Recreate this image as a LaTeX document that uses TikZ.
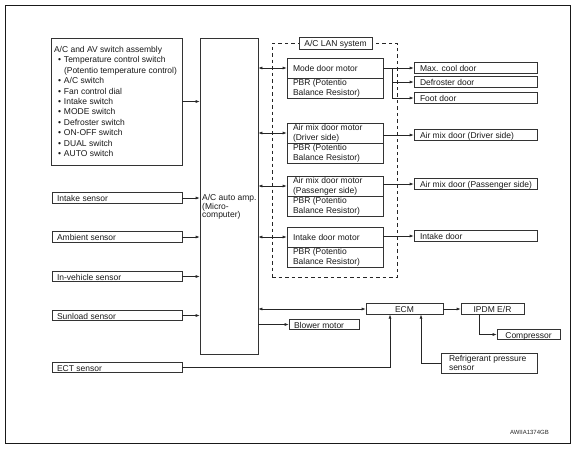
\documentclass[tikz,border=0pt]{standalone}
\usepackage{fontspec}
\setmainfont{Liberation Sans}
\usetikzlibrary{arrows.meta}
\newcommand{\lbx}[2]{\makebox[#1][l]{#2}}
\begin{document}
\begin{tikzpicture}[x=1pt,y=-1pt,
  font=\fontsize{8.5}{10}\selectfont,
  >={Latex[length=4pt,width=3pt]},
  box/.style={draw=black!80, line width=0.6pt, rectangle, inner ysep=0pt, text=black!90},
  one/.style={box, minimum height=10.5pt, text height=7pt, text depth=0pt},
  two/.style={box, minimum height=20pt, align=left},
  sensor/.style={one, inner xsep=5pt},
  door/.style={one, inner xsep=6pt},
  motor/.style={two, inner xsep=6pt},
  cbox/.style={one, inner xsep=0pt, minimum width=#1, align=center},
  conn/.style={draw=black!85, line width=0.6pt},
  lanframe/.style={draw=black!85, line width=1pt, dash pattern=on 3.5pt off 3pt, rectangle, minimum width=125pt, minimum height=234pt, inner sep=0pt}
]
\useasboundingbox (0,0) rectangle (572,448);
\draw[black!90, line width=0.8pt] (5.5,5.5) rectangle (570,443);

% left column
\node[box, minimum width=131pt, minimum height=127pt, inner xsep=3pt, align=left,
      font=\fontsize{8.5}{10.45}\selectfont] (sw) at (116.5,101.5) {\lbx{125pt}{A/C and AV switch assembly}\\
\hspace*{4pt}\makebox[6pt][l]{•}Temperature control switch\\
\hspace*{10pt}(Potentio temperature control)\\
\hspace*{4pt}\makebox[6pt][l]{•}A/C switch\\
\hspace*{4pt}\makebox[6pt][l]{•}Fan control dial\\
\hspace*{4pt}\makebox[6pt][l]{•}Intake switch\\
\hspace*{4pt}\makebox[6pt][l]{•}MODE switch\\
\hspace*{4pt}\makebox[6pt][l]{•}Defroster switch\\
\hspace*{4pt}\makebox[6pt][l]{•}ON-OFF switch\\
\hspace*{4pt}\makebox[6pt][l]{•}DUAL switch\\
\hspace*{4pt}\makebox[6pt][l]{•}AUTO switch};

\node[sensor] (intake) at (117,198) {\lbx{120pt}{Intake sensor}};
\node[sensor] (ambient) at (117,237) {\lbx{120pt}{Ambient sensor}};
\node[sensor] (inveh) at (117,276.5) {\lbx{120pt}{In-vehicle sensor}};
\node[sensor] (sunload) at (117,315.5) {\lbx{120pt}{Sunload sensor}};
\node[sensor] (ect) at (117,367.5) {\lbx{120pt}{ECT sensor}};

% amplifier
\node[box, minimum width=58pt, minimum height=316pt] (amp) at (229,196) {};
\node[anchor=north west, inner sep=0pt, align=left, font=\fontsize{8.5}{8.2}\selectfont, text=black!90] (amptxt) at (202,194.6) {A/C auto amp.\\(Micro-\\computer)};

% LAN system
\node[lanframe] (lan) at (334.5,160) {};
\node[box, fill=white, minimum width=73pt, minimum height=12pt, text height=7pt, text depth=0pt] (lanlabel) at (335.5,43) {A/C LAN system};

\node[motor] (mode) at (335,68) {\lbx{84pt}{Mode door motor}};
\node[motor] (modepbr) at (335,88) {\lbx{84pt}{PBR (Potentio}\\Balance Resistor)};
\node[motor] (drv) at (335,133) {\lbx{84pt}{Air mix door motor}\\(Driver side)};
\node[motor] (drvpbr) at (335,153) {\lbx{84pt}{PBR (Potentio}\\Balance Resistor)};
\node[motor] (pas) at (335,186) {\lbx{84pt}{Air mix door motor}\\(Passenger side)};
\node[motor] (paspbr) at (335,206) {\lbx{84pt}{PBR (Potentio}\\Balance Resistor)};
\node[motor] (ind) at (335,237) {\lbx{84pt}{Intake door motor}};
\node[motor] (indpbr) at (335,257) {\lbx{84pt}{PBR (Potentio}\\Balance Resistor)};

% doors
\node[door] (maxcool) at (475.5,68) {\lbx{111pt}{Max. cool door}};
\node[door] (defr) at (475.5,82) {\lbx{111pt}{Defroster door}};
\node[door] (foot) at (475.5,98) {\lbx{111pt}{Foot door}};
\node[door] (airdrv) at (475.5,135) {\lbx{111pt}{Air mix door (Driver side)}};
\node[door] (airpas) at (475.5,184) {\lbx{111pt}{Air mix door (Passenger side)}};
\node[door] (intdoor) at (475.5,236) {\lbx{111pt}{Intake door}};

% bottom
\node[cbox=77pt] (ecm) at (404.5,309) {ECM};
\node[cbox=63pt] (ipdm) at (492.5,309) {IPDM E/R};
\node[cbox=63pt] (comp) at (528.5,334.5) {Compressor};
\node[one, inner xsep=5pt] (blower) at (324,324.5) {\lbx{60pt}{Blower motor}};
\node[two, inner xsep=8pt, font=\fontsize{8.5}{9.3}\selectfont] (refr) at (489,363) {\lbx{80pt}{Refrigerant pressure}\\sensor};

\node[anchor=east, inner sep=0pt, font=\fontsize{6}{7}\selectfont, text=black!85] (code) at (549,432) {AWIIA1374GB};

% connectors into amp
\draw[conn,->] (sw.east) -- (amp.west |- sw.east);
\foreach \s in {intake,ambient,inveh,sunload}
  \draw[conn,->] (\s) -- (amp.west |- \s);

% amp <-> motors
\foreach \m in {mode,drv,pas,ind}
  \draw[conn,<->] (amp.east |- \m) -- (\m.west);

% motors -> doors
\draw[conn,->] (mode.east |- maxcool) -- (maxcool);
\coordinate (mbr) at ([xshift=9pt]mode.east);
\draw[conn,->] (mbr) |- (foot);
\draw[conn,->] (mbr |- defr) -- (defr);
\draw[conn,->] (drv.east |- airdrv) -- (airdrv);
\draw[conn,->] (pas.east |- airpas) -- (airpas);
\draw[conn,->] (ind.east |- intdoor) -- (intdoor);

% bottom connectors
\draw[conn,<->] (amp.east |- ecm) -- (ecm);
\draw[conn,->] (amp.east |- blower) -- (blower);
\draw[conn,->] (ecm) -- (ipdm);
\draw[conn,->] ([xshift=19pt]ipdm.south west) |- (comp);
\draw[conn,->] (ect) -| ([xshift=-14.5pt]ecm.south);
\draw[conn,->] (refr) -| ([xshift=16.5pt]ecm.south);
\end{tikzpicture}
\end{document}
